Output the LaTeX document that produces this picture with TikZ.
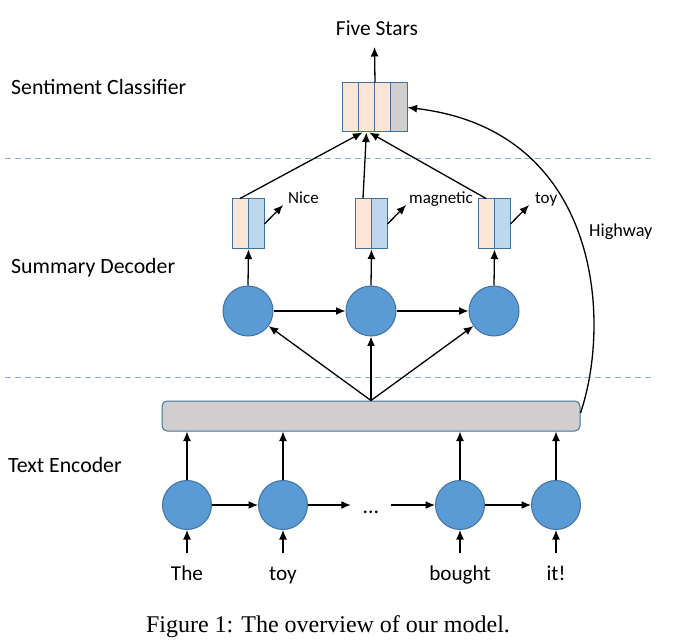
\documentclass[tikz,border=0pt]{standalone}
\usepackage{fontspec}
\setmainfont{Carlito}
\newfontfamily\capfont{Liberation Serif}
\usetikzlibrary{arrows.meta}
\definecolor{peach}{HTML}{FBE5D6}
\definecolor{lblue}{HTML}{BDD7EE}
\definecolor{lgray}{HTML}{D0CECE}
\definecolor{bord}{HTML}{41719C}
\definecolor{cfill}{HTML}{5B9BD5}
\definecolor{dashc}{HTML}{8FAADC}
\tikzset{
  x=1pt, y=-1pt,
  arr/.style={line width=1.3pt, -{Latex[length=9.5pt,width=8pt]}},
  cell/.style={draw=bord, line width=1pt, inner sep=0pt, minimum width=16.25pt, minimum height=49pt},
  dcell/.style={draw=bord, line width=1pt, inner sep=0pt, minimum width=16pt, minimum height=50pt},
  rnn/.style={circle, draw=bord, line width=1pt, fill=cfill, inner sep=0pt},
  lab/.style={font=\fontsize{21.8}{25}\selectfont, inner sep=0pt},
  wlab/.style={font=\fontsize{17}{20}\selectfont, inner sep=0pt},
  sep/.style={draw=dashc, line width=1pt, dash pattern=on 6pt off 4pt},
}
\begin{document}
\begin{tikzpicture}
\useasboundingbox (0,0) rectangle (675,644);
% separators
\coordinate (s1l) at (5,159); \coordinate (s1r) at (652,159);
\coordinate (s2l) at (5,378); \coordinate (s2r) at (652,378);
\draw[sep] (s1l) -- (s1r);
\draw[sep] (s2l) -- (s2r);
% section labels
\node[lab, anchor=west] (lsc) at (11,87) {Sentiment Classifier};
\node[lab, anchor=west] (lsd) at (11,268) {Summary Decoder};
\node[lab, anchor=west] (lte) at (8,465) {Text Encoder};
% classifier
\node[cell, fill=peach] (c1) at (350.125,107.5) {};
\node[cell, fill=peach] (c2) at (366.375,107.5) {};
\node[cell, fill=peach] (c3) at (382.625,107.5) {};
\node[cell, fill=lgray] (c4) at (398.875,107.5) {};
\node[lab, font=\fontsize{21.4}{25}\selectfont, anchor=base] (fs) at (377,36) {Five Stars};
\coordinate (fsin) at (374.5,47);
\draw[arr] (c2.north east) -- (fsin);
% decoder vectors
\node[dcell, fill=peach] (d1a) at (240,224) {};
\node[dcell, fill=lblue] (d1b) at (256,224) {};
\node[dcell, fill=peach] (d2a) at (363,224) {};
\node[dcell, fill=lblue] (d2b) at (379,224) {};
\node[dcell, fill=peach] (d3a) at (486,224) {};
\node[dcell, fill=lblue] (d3b) at (502,224) {};
\draw[arr] (d1a.north) -- ([xshift=-4pt]c2.south);
\draw[arr] (d2a.north) -- (c2.south);
\draw[arr] (d3a.north) -- ([xshift=3pt]c2.south);
% output words
\node[wlab, anchor=west] (wn) at (288,198) {Nice};
\node[wlab, anchor=west] (wm) at (409,199) {magnetic};
\node[wlab, anchor=west] (wt) at (535,199) {toy};
\coordinate (an) at (283,205);
\coordinate (am) at (406,205);
\coordinate (at3) at (529,205);
\draw[arr] (d1b.east) -- (an);
\draw[arr] (d2b.east) -- (am);
\draw[arr] (d3b.east) -- (at3);
% decoder states
\node[rnn, minimum size=50pt] (s1) at (248,311) {};
\node[rnn, minimum size=50pt] (s2) at (371,311) {};
\node[rnn, minimum size=50pt] (s3) at (494,311) {};
\draw[arr] (s1.east) -- (s2.west);
\draw[arr] (s2.east) -- (s3.west);
\draw[arr] (s1.north) -- (d1a.south east);
\draw[arr] (s2.north) -- (d2a.south east);
\draw[arr] (s3.north) -- (d3a.south east);
% encoder bar
\node[draw=bord, line width=1pt, fill=lgray, rounded corners=5pt, minimum width=418pt, minimum height=30pt, inner sep=0pt] (bar) at (371,416) {};
\draw[arr] (bar.north) -- (s1);
\draw[arr] (bar.north) -- (s2);
\draw[arr] (bar.north) -- (s3);
% highway
\draw[arr] ([yshift=3pt]bar.east) .. controls (612,320) and (600,130) .. (c4.east);
\node[wlab, font=\fontsize{18.3}{21}\selectfont, anchor=west] (hw) at (589,232) {Highway};
% encoder states
\node[rnn, minimum size=49pt] (e1) at (187,505) {};
\node[rnn, minimum size=49pt] (e2) at (283,505) {};
\node[rnn, minimum size=49pt] (e3) at (460,505) {};
\node[rnn, minimum size=49pt] (e4) at (556,505) {};
\node[lab, anchor=base, text height=16pt, text depth=0pt, minimum width=40pt] (dots) at (371,513) {...};
\draw[arr] (e1.east) -- (e2.west);
\draw[arr] (e2.east) -- (dots.west);
\draw[arr] (dots.east) -- (e3.west);
\draw[arr] (e3.east) -- (e4.west);
\draw[arr] (e1.north) -- (e1.north |- bar.south);
\draw[arr] (e2.north) -- (e2.north |- bar.south);
\draw[arr] (e3.north) -- (e3.north |- bar.south);
\draw[arr] (e4.north) -- (e4.north |- bar.south);
% inputs
\coordinate (i1) at (187,553);
\coordinate (i2) at (283,553);
\coordinate (i3) at (460,553);
\coordinate (i4) at (556,553);
\draw[arr] (i1) -- (e1.south);
\draw[arr] (i2) -- (e2.south);
\draw[arr] (i3) -- (e3.south);
\draw[arr] (i4) -- (e4.south);
\node[lab, font=\fontsize{21.2}{25}\selectfont, anchor=base] (t1) at (187,580) {The};
\node[lab, font=\fontsize{21.2}{25}\selectfont, anchor=base] (t2) at (283,580) {toy};
\node[lab, font=\fontsize{21.2}{25}\selectfont, anchor=base] (t3) at (460,580) {bought};
\node[lab, font=\fontsize{21.2}{25}\selectfont, anchor=base] (t4) at (556,580) {it!};
% caption
\node[font=\capfont\fontsize{24}{28}\selectfont, anchor=base, inner sep=0pt] (cap) at (328,632) {Figure 1: The overview of our model.};
\end{tikzpicture}
\end{document}
